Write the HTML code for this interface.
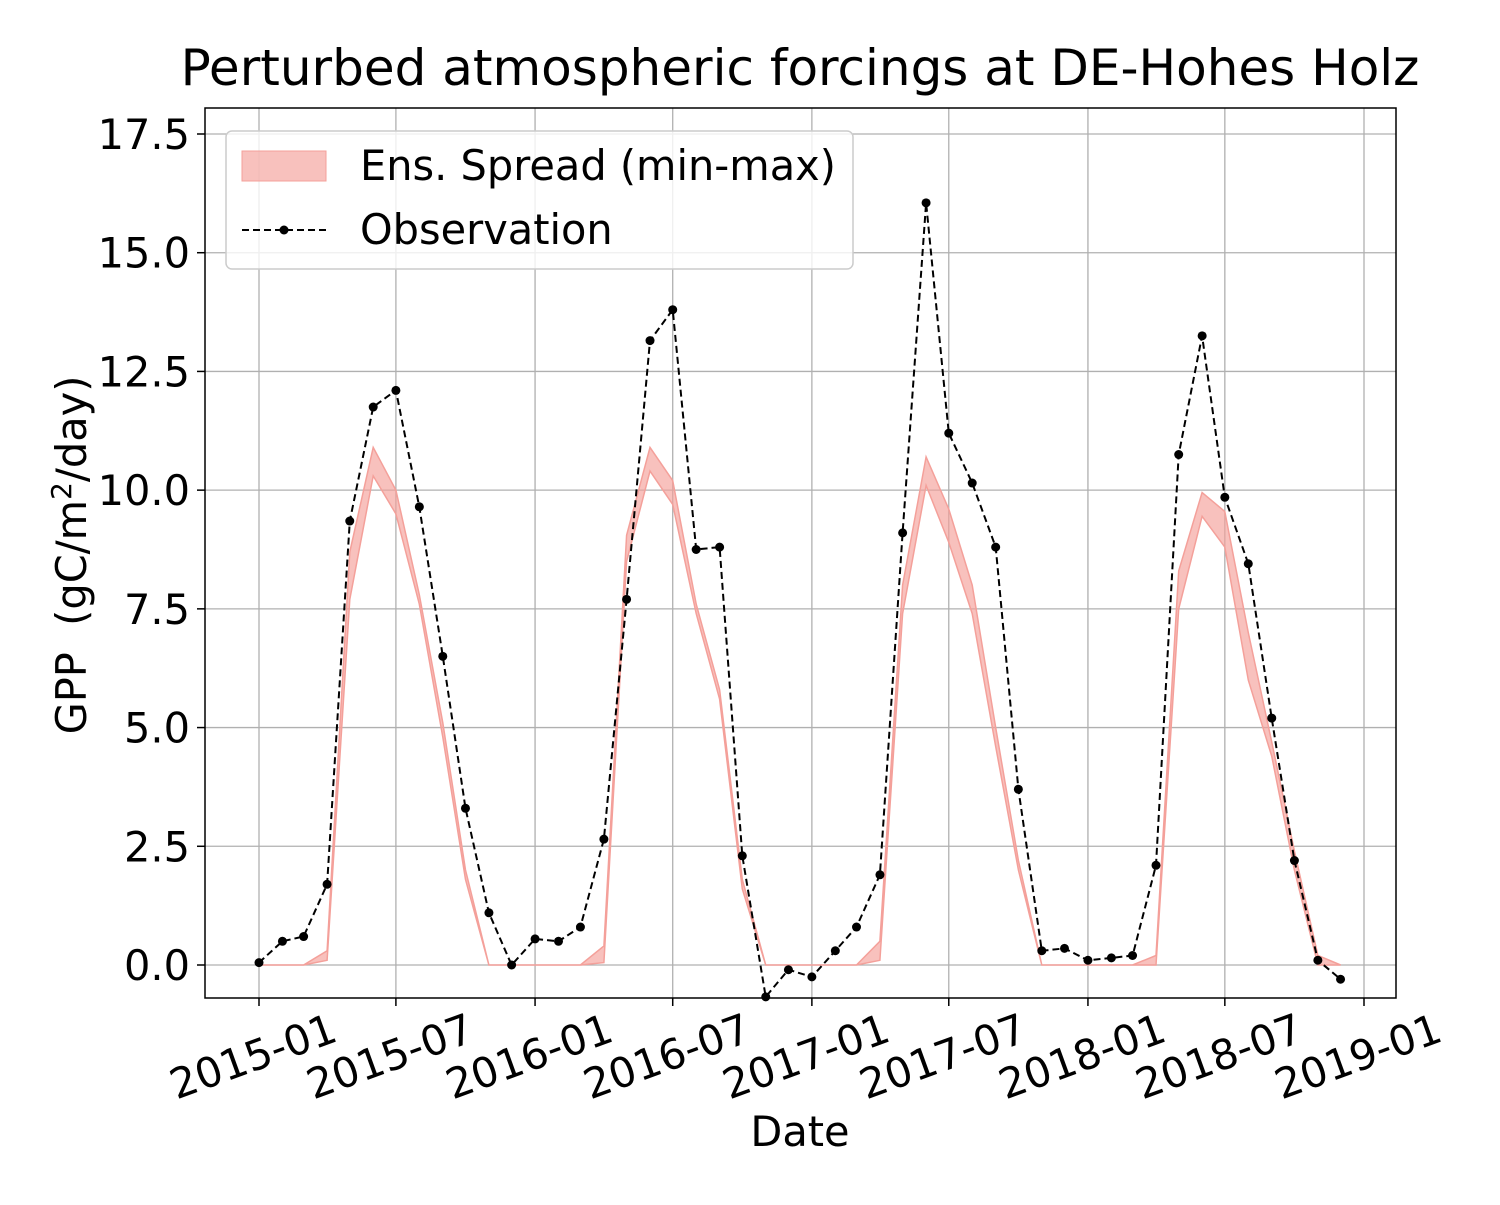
<!DOCTYPE html>
<html><head><meta charset="utf-8"><style>
body{margin:0;background:#fff}
svg text{font-family:"DejaVu Sans","Liberation Sans",sans-serif;fill:#000}
</style></head><body>
<svg id="chart" width="1500" height="1200" viewBox="0 0 1500 1200" xmlns="http://www.w3.org/2000/svg">
<rect width="1500" height="1200" fill="#fff"/>
<text x="800" y="85" font-size="50" text-anchor="middle">Perturbed atmospheric forcings at DE-Hohes Holz</text>
<g id="grid"></g>
<g id="band"></g>
<g id="obs"></g>
<rect x="205" y="108" width="1191" height="890" fill="none" stroke="#000" stroke-width="1.5"/>
<g id="ticks"></g>
<text x="800" y="1146" font-size="41.5" text-anchor="middle">Date</text>
<text transform="translate(86,555) rotate(-90)" font-size="41.5" text-anchor="middle" xml:space="preserve">GPP  (gC/m<tspan font-size="28" dy="-15">2</tspan><tspan dy="15">/day)</tspan></text>
<g>
<rect x="226" y="131" width="627" height="138" rx="6" fill="#fff" fill-opacity="0.8" stroke="#ccc" stroke-width="1.5"/>
<rect x="242" y="151" width="84" height="30" fill="#f4a09a" fill-opacity="0.65" stroke="#f4a09a"/>
<text x="360" y="180" font-size="41.5">Ens. Spread (min-max)</text>
<line x1="242" y1="230" x2="326" y2="230" stroke="#000" stroke-width="2" stroke-dasharray="7,4"/>
<circle cx="284" cy="230" r="4.5" fill="#000"/>
<text x="360" y="244" font-size="41.5">Observation</text>
</g>
</svg>
<script>
const months = [];
for (let y = 2015; y <= 2018; y++) for (let m = 1; m <= 12; m++) months.push(y + '-' + String(m).padStart(2, '0'));
const obsValues = [0.05,0.5,0.6,1.7,9.35,11.75,12.1,9.65,6.5,3.3,1.1,0.0,
 0.55,0.5,0.8,2.65,7.7,13.15,13.8,8.75,8.8,2.3,-0.67,-0.1,
 -0.25,0.3,0.8,1.9,9.1,16.05,11.2,10.15,8.8,3.7,0.3,0.35,
 0.1,0.15,0.2,2.1,10.75,13.25,9.85,8.45,5.2,2.2,0.1,-0.3];
const ensMin = [0,0,0,0.1,7.7,10.3,9.5,7.6,4.8,1.8,0,0,
 0,0,0,0.05,8.5,10.4,9.7,7.4,5.6,1.6,0,0,
 0,0,0,0.1,7.4,10.1,8.9,7.4,4.6,2.0,0,0,
 0,0,0,0,7.5,9.45,8.8,6.0,4.4,2.0,0,0];
const ensMax = [0,0,0,0.3,8.7,10.9,10.0,7.8,5.1,2.0,0,0,
 0,0,0,0.4,9.05,10.9,10.2,7.6,5.8,1.8,0,0,
 0,0,0,0.5,8.0,10.7,9.6,8.0,5.0,2.2,0,0,
 0,0,0,0.2,8.3,9.95,9.55,7.0,4.7,2.4,0.2,0];
const yTicks = [0,2.5,5,7.5,10,12.5,15,17.5];
const xTicks = ['2015-01','2015-07','2016-01','2016-07','2017-01','2017-07','2018-01','2018-07','2019-01'];

const NS = 'http://www.w3.org/2000/svg';
const t0 = Date.UTC(2015,0,1), t1 = Date.UTC(2019,0,1);
function xs(s){const [y,m]=s.split('-').map(Number);return 259+(Date.UTC(y,m-1,1)-t0)/(t1-t0)*(1364-259);}
function ys(v){return 965 - v*(965-134)/17.5;}
function mk(tag, attrs, parent){const e=document.createElementNS(NS,tag);for(const k in attrs)e.setAttribute(k,attrs[k]);parent.appendChild(e);return e;}
const grid=document.getElementById('grid'), ticks=document.getElementById('ticks');
yTicks.forEach(v=>{
  const y=ys(v);
  const g=mk('line',{x1:205,x2:1396,y1:y,y2:y,stroke:'#b0b0b0','stroke-width':1.3},grid);
  
  
  mk('line',{x1:197,x2:205,y1:y,y2:y,stroke:'#000','stroke-width':1.5},ticks);
  const t=mk('text',{x:190,y:y+15,'font-size':41.5,'text-anchor':'end'},ticks);
  t.textContent=v.toFixed(1);
  
  
});
xTicks.forEach(s=>{
  const x=xs(s);
  const g=mk('line',{x1:x,x2:x,y1:108,y2:998,stroke:'#b0b0b0','stroke-width':1.3},grid);
  
  
  mk('line',{x1:x,x2:x,y1:998,y2:1006,stroke:'#000','stroke-width':1.5},ticks);
  const t=mk('text',{x:0,y:0,'font-size':41.5,'text-anchor':'middle',transform:`translate(${x-1},${1070}) rotate(-20)`},ticks);
  t.textContent=s;
  
  
});
let d='';
months.forEach((m,i)=>{d+=(i?'L':'M')+xs(m).toFixed(1)+','+ys(ensMax[i]).toFixed(1);});
for(let i=months.length-1;i>=0;i--) d+='L'+xs(months[i]).toFixed(1)+','+ys(ensMin[i]).toFixed(1);
const band=mk('path',{d:d+'Z',fill:'#f4a09a','fill-opacity':0.65,stroke:'#f4a09a','stroke-width':1.5},document.getElementById('band'));


const og=document.getElementById('obs');
const pts=months.map((m,i)=>xs(m).toFixed(1)+','+ys(obsValues[i]).toFixed(1)).join(' ');
const line=mk('polyline',{points:pts,fill:'none',stroke:'#000','stroke-width':2,'stroke-dasharray':'7,4'},og);


months.forEach((m,i)=>{
  const c=mk('circle',{cx:xs(m),cy:ys(obsValues[i]),r:4.5,fill:'#000'},og);
  
  
});
</script>
</body></html>
